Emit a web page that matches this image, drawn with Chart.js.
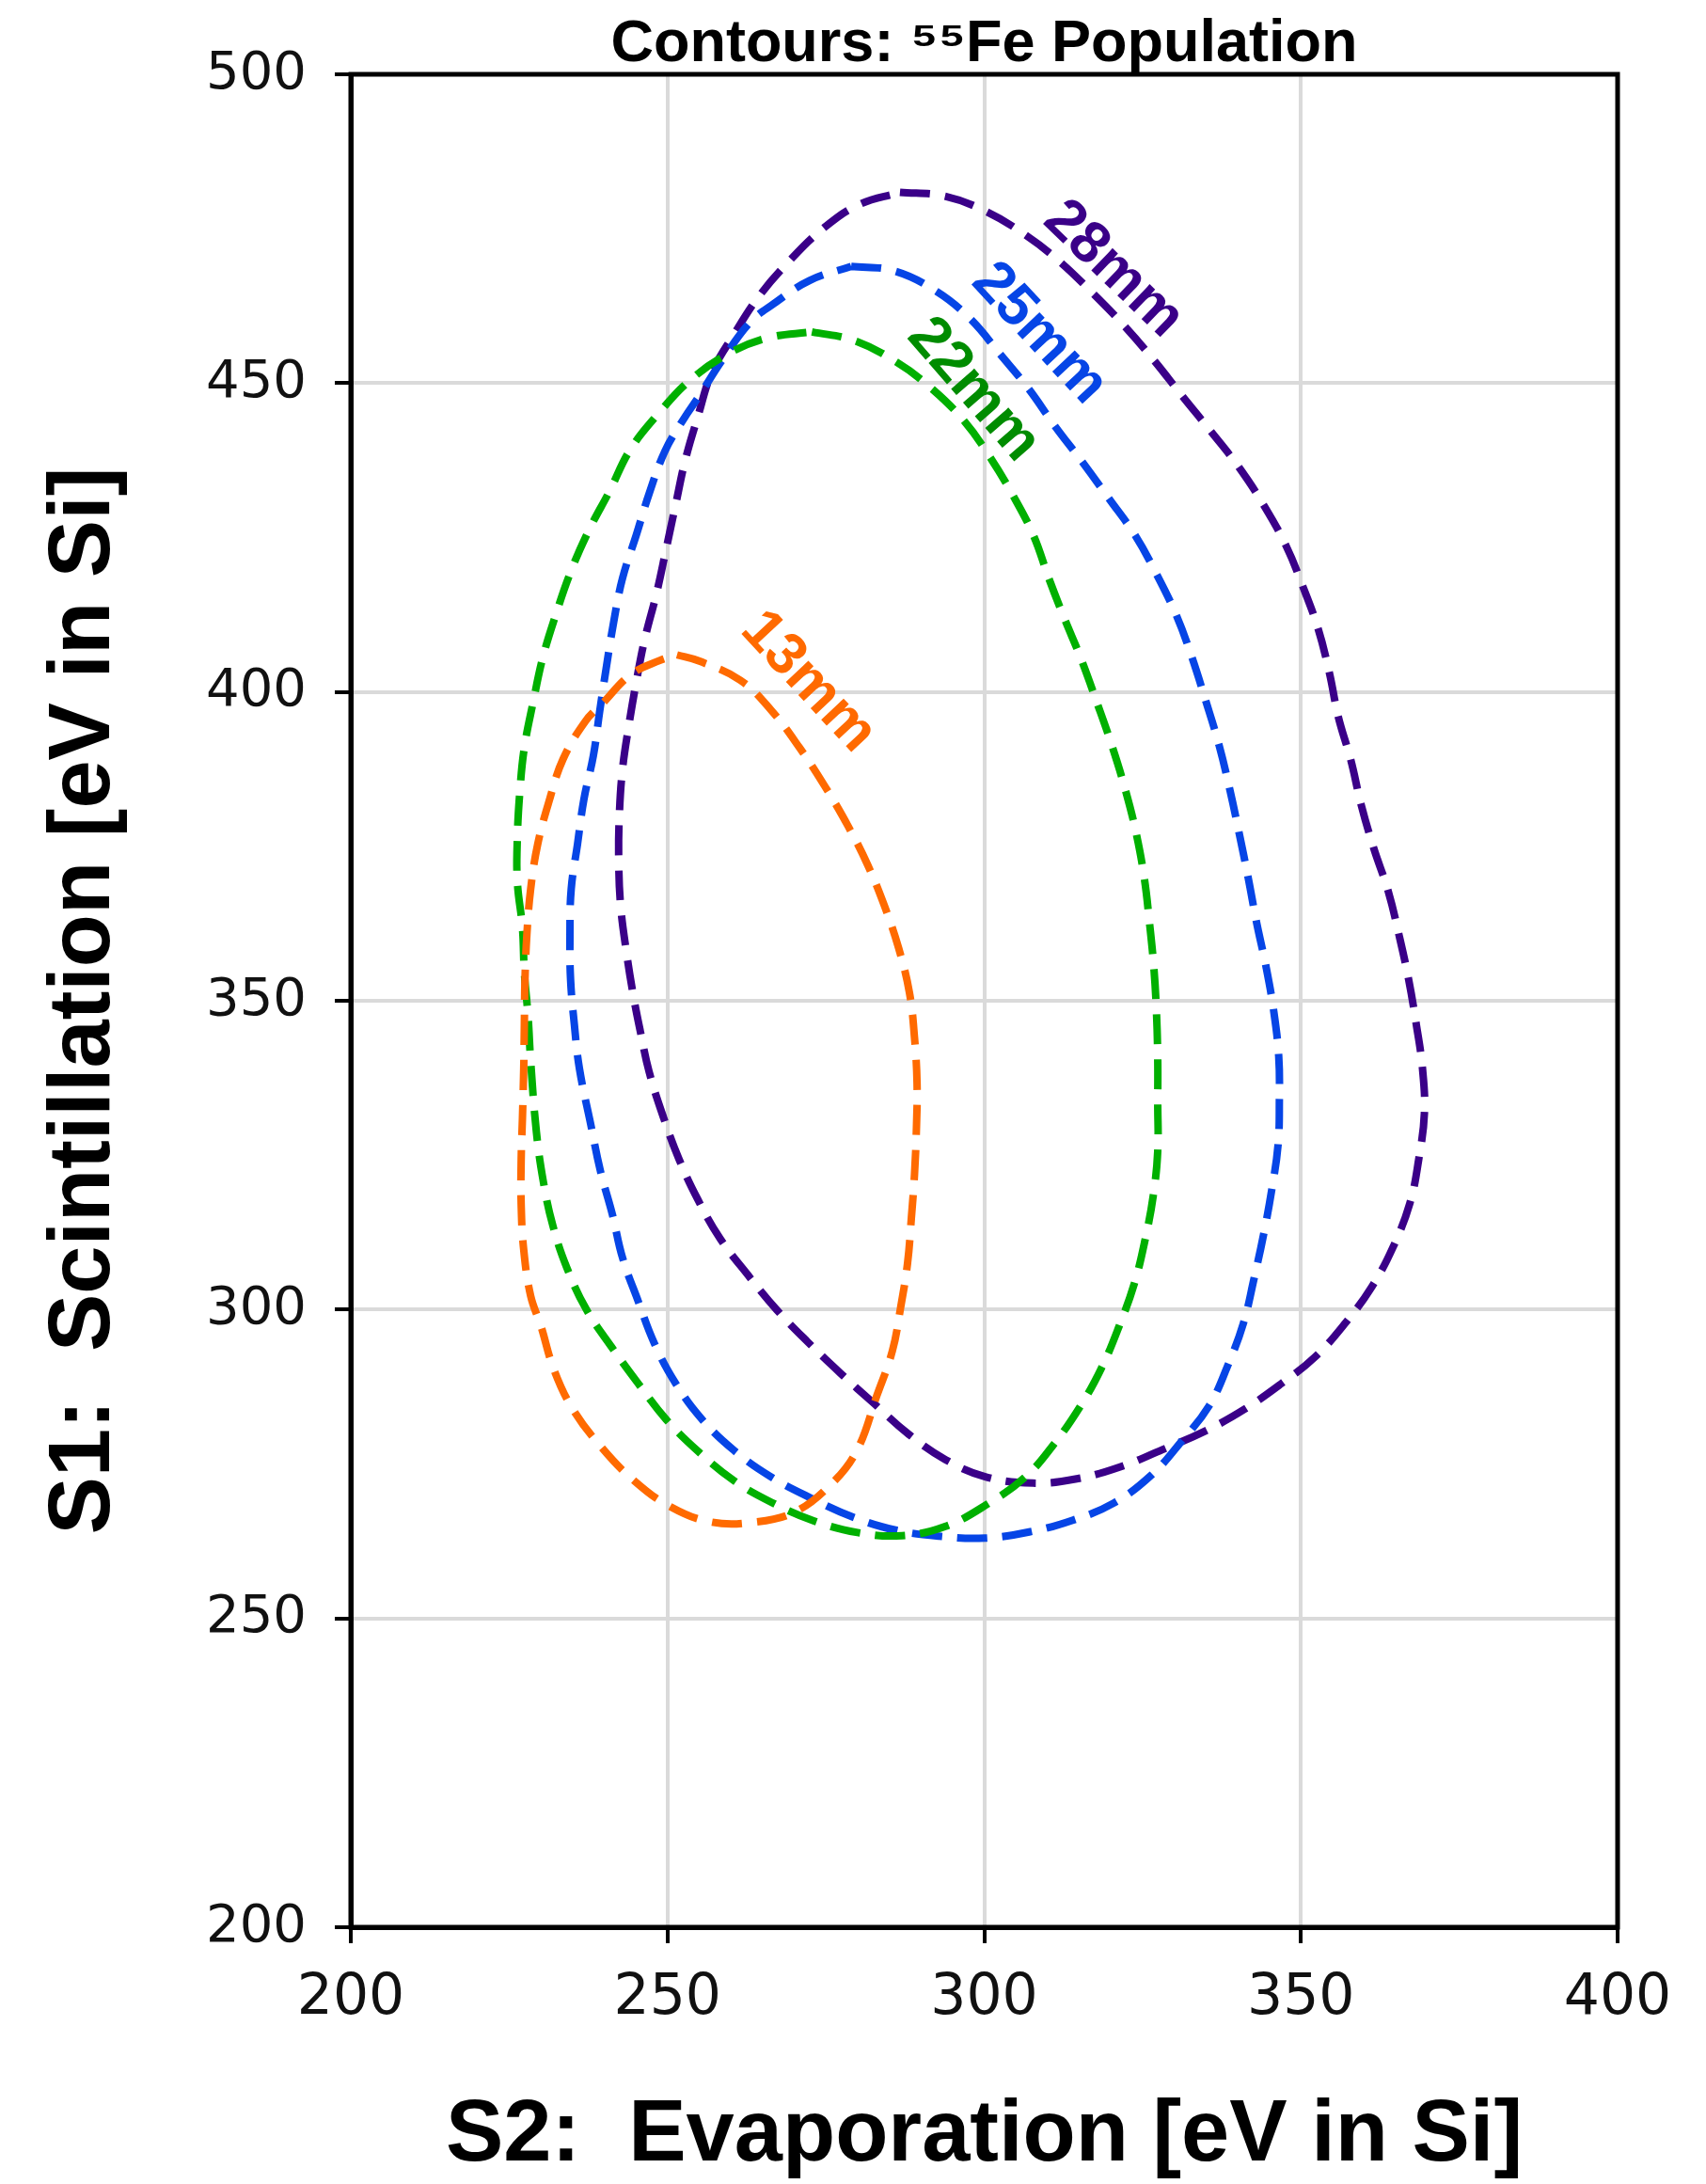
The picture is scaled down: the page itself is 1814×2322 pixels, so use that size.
<!DOCTYPE html>
<html>
<head>
<meta charset="utf-8">
<script src="https://cdn.jsdelivr.net/npm/chart.js@4.4.1/dist/chart.umd.min.js"></script>
<style>
  html, body { margin: 0; padding: 0; background: #ffffff; }
  canvas { display: block; }
</style>
</head>
<body>
<canvas id="contour-chart" width="1814" height="2322"></canvas>
<script>
// Contour levels (detector distance)
const levelNames = ['13mm', '22mm', '25mm', '28mm'];
const levelColors = ['#ff6a00', '#00b000', '#0645e6', '#3a0088'];
const labelColors = ['#ff6a00', '#008c00', '#0645e6', '#3a0088'];

// 13mm contour (S2, S1), read clockwise from the top
const c13x = [251.5, 255.0, 261.5, 266.4, 270.9, 274.8, 278.5, 281.6, 284.2, 286.5, 288.2, 289.0, 289.4, 289.3, 289.0, 288.5, 287.9, 286.8, 285.5, 283.1, 279.8, 275.4, 270.0, 263.8, 256.9, 250.1, 244.4, 239.5, 235.1, 232.1, 230.0, 228.4, 227.3, 226.9, 226.9, 227.1, 227.3, 227.4, 227.5, 227.8, 228.4, 229.5, 231.3, 233.5, 237.0, 239.7, 244.2, 248.8, 251.5];
const c13y = [406.0, 405.0, 401.9, 397.0, 390.9, 384.8, 378.3, 372.0, 365.5, 358.5, 351.3, 344.0, 336.6, 329.3, 321.9, 314.8, 307.5, 300.3, 293.3, 286.2, 277.0, 271.3, 267.2, 265.6, 265.6, 268.3, 272.6, 277.8, 283.8, 290.2, 297.4, 302.2, 309.7, 317.0, 324.3, 331.0, 338.9, 346.2, 353.4, 360.7, 368.1, 375.3, 382.3, 389.1, 395.2, 398.1, 402.8, 405.1, 406.0];

// 22mm contour
const c22x = [272.8, 279.5, 286.0, 291.4, 296.9, 300.8, 304.5, 307.8, 310.2, 312.7, 315.2, 317.9, 320.2, 322.3, 324.0, 325.3, 326.1, 326.8, 327.2, 327.4, 327.4, 327.4, 326.7, 325.4, 323.7, 321.3, 318.5, 315.2, 311.0, 306.5, 300.5, 293.9, 287.0, 280.0, 273.1, 266.4, 260.5, 255.0, 249.8, 245.4, 241.2, 237.2, 234.1, 231.9, 230.4, 229.3, 228.4, 228.0, 227.4, 227.1, 226.3, 226.3, 226.7, 227.4, 228.8, 230.3, 232.3, 234.7, 237.5, 240.9, 244.1, 248.6, 253.5, 259.5, 265.7, 272.8];
const c22y = [458.3, 456.9, 453.5, 449.4, 443.8, 438.2, 431.9, 425.3, 418.4, 411.8, 405.6, 398.0, 391.2, 384.1, 377.1, 369.7, 362.6, 355.2, 348.1, 340.5, 333.4, 325.7, 318.5, 311.3, 304.2, 297.3, 290.5, 284.4, 278.2, 272.9, 268.5, 264.9, 263.4, 263.9, 265.8, 268.8, 272.3, 276.9, 282.2, 288.0, 293.9, 300.0, 306.8, 313.6, 320.7, 328.8, 340.2, 347.3, 354.6, 361.8, 369.2, 376.5, 384.0, 391.0, 398.4, 405.5, 412.3, 419.4, 426.0, 432.6, 439.2, 445.1, 450.4, 454.7, 457.3, 458.3];

// 25mm contour
const c25x = [279.0, 285.7, 292.4, 297.9, 302.5, 307.0, 311.2, 315.6, 319.7, 323.8, 327.2, 330.3, 332.6, 335.0, 337.1, 338.8, 340.3, 341.7, 343.0, 344.5, 345.7, 346.5, 346.6, 346.4, 345.4, 344.1, 342.6, 340.9, 338.4, 335.5, 331.1, 326.4, 320.5, 314.0, 307.1, 300.1, 292.9, 286.0, 279.3, 272.8, 266.2, 260.5, 255.3, 251.2, 247.9, 245.4, 242.9, 241.3, 239.4, 237.9, 236.1, 235.3, 234.7, 234.6, 234.8, 235.8, 236.8, 238.3, 239.3, 240.3, 241.5, 242.9, 245.1, 247.1, 249.6, 252.5, 255.0, 258.5, 263.0, 266.7, 272.4, 279.0];
const c25y = [468.9, 468.2, 464.9, 460.3, 454.7, 449.1, 443.0, 437.1, 431.3, 425.4, 419.1, 412.5, 406.2, 398.5, 391.3, 384.1, 376.9, 369.8, 362.7, 355.5, 348.4, 341.0, 333.8, 326.7, 319.4, 312.1, 305.0, 297.7, 290.8, 284.4, 278.6, 273.2, 268.7, 265.9, 264.0, 263.0, 263.3, 264.3, 266.4, 269.4, 273.0, 277.2, 282.4, 288.2, 294.6, 301.3, 308.4, 315.4, 322.5, 329.9, 339.0, 346.1, 353.4, 360.7, 368.1, 375.4, 382.6, 389.7, 396.9, 403.7, 411.3, 418.4, 425.5, 432.1, 439.0, 444.1, 447.9, 453.5, 459.8, 462.8, 466.6, 468.9];

// 28mm contour
const c28x = [286.7, 293.6, 300.3, 306.5, 311.9, 317.1, 322.1, 326.8, 331.2, 335.7, 340.2, 344.1, 347.6, 350.3, 352.7, 354.5, 355.9, 357.9, 359.5, 361.5, 363.8, 365.5, 367.0, 368.2, 369.2, 369.5, 368.6, 367.2, 364.5, 361.2, 357.0, 352.2, 346.9, 341.0, 335.0, 328.1, 321.4, 314.6, 307.7, 300.3, 293.9, 288.1, 282.6, 277.3, 272.1, 267.3, 262.7, 258.3, 254.8, 251.8, 249.4, 247.1, 245.7, 244.6, 243.5, 242.6, 242.3, 242.4, 242.9, 243.9, 245.1, 246.4, 248.3, 249.8, 251.3, 252.8, 254.8, 257.0, 260.5, 264.4, 268.9, 274.3, 280.0, 286.7];
const c28y = [480.9, 480.3, 477.8, 474.0, 469.7, 464.6, 459.3, 453.7, 448.0, 442.3, 436.4, 430.3, 423.8, 417.1, 410.3, 403.1, 396.0, 388.9, 381.8, 374.7, 367.7, 360.6, 353.5, 346.3, 339.0, 331.8, 324.3, 317.2, 310.0, 303.7, 297.8, 292.3, 288.0, 283.8, 280.4, 277.3, 274.5, 272.6, 271.9, 272.9, 275.7, 279.8, 284.8, 289.7, 294.8, 299.9, 305.6, 311.5, 317.8, 324.4, 331.0, 338.5, 345.1, 350.9, 358.0, 365.4, 372.6, 380.1, 387.5, 394.6, 401.8, 408.5, 416.1, 423.2, 430.4, 437.5, 444.6, 451.7, 457.9, 464.0, 469.4, 474.8, 478.8, 480.9];

// inline contour labels: position in data units and angle
const labelX = [272.2, 298.3, 308.7, 320.4];
const labelY = [401.6, 448.9, 458.0, 468.4];
const labelAngle = [47, 49, 47, 44];

const xTicks = [200, 250, 300, 350, 400];
const yTicks = [200, 250, 300, 350, 400, 450, 500];

const contourX = [c13x, c22x, c25x, c28x];
const contourY = [c13y, c22y, c25y, c28y];

function toPoints(xs, ys) {
    return xs.map((x, i) => ({ x: x, y: ys[i] }));
}

// black box round the plot area
const framePlugin = {
    id: 'frame',
    afterDraw(chart) {
        const a = chart.chartArea;
        const ctx = chart.ctx;
        ctx.save();
        ctx.strokeStyle = '#000000';
        ctx.lineWidth = 5;
        ctx.strokeRect(a.left, a.top, a.right - a.left, a.bottom - a.top);
        ctx.restore();
    }
};

// contour level labels, rotated along the curves
const contourLabelPlugin = {
    id: 'contourLabels',
    afterDatasetsDraw(chart) {
        const ctx = chart.ctx;
        const xs = chart.scales.x;
        const ys = chart.scales.y;
        ctx.save();
        ctx.font = 'bold 62px "Liberation Sans", Arial, sans-serif';
        ctx.textAlign = 'center';
        ctx.textBaseline = 'middle';
        levelNames.forEach((name, i) => {
            const px = xs.getPixelForValue(labelX[i]);
            const py = ys.getPixelForValue(labelY[i]);
            ctx.save();
            ctx.translate(px, py);
            ctx.rotate(labelAngle[i] * Math.PI / 180);
            ctx.fillStyle = labelColors[i];
            ctx.fillText(name, 0, 0);
            ctx.restore();
        });
        ctx.restore();
    }
};

document.addEventListener('DOMContentLoaded', function() {
    const canvas = document.getElementById('contour-chart');

    const datasets = levelNames.map((name, i) => ({
        label: name,
        data: toPoints(contourX[i], contourY[i]),
        showLine: true,
        fill: false,
        borderColor: levelColors[i],
        borderWidth: 8,
        borderDash: [32, 16],
        tension: 0.4,
        pointRadius: 0,
        pointHoverRadius: 0
    }));

    new Chart(canvas, {
        type: 'scatter',
        data: { datasets: datasets },
        options: {
            responsive: false,
            animation: false,
            events: [],
            layout: { padding: { left: 0, right: 94, top: 0, bottom: 0 } },
            plugins: {
                legend: { display: false },
                tooltip: { enabled: false },
                title: {
                    display: true,
                    text: 'Contours: \u2075\u2075Fe Population',
                    fullSize: false,
                    color: '#000000',
                    font: { family: '"Liberation Sans", Arial, sans-serif', size: 63, weight: 'bold', lineHeight: 1 },
                    padding: { top: 16, bottom: 0 }
                }
            },
            scales: {
                x: {
                    type: 'linear',
                    min: 200,
                    max: 400,
                    afterFit: (scale) => { scale.height = 273; },
                    afterBuildTicks: (scale) => { scale.ticks = xTicks.map(v => ({ value: v })); },
                    ticks: {
                        color: '#111111',
                        padding: 23,
                        font: { family: '"DejaVu Sans", sans-serif', size: 60 }
                    },
                    grid: {
                        color: '#dadada',
                        lineWidth: 4,
                        tickColor: '#000000',
                        tickWidth: 4,
                        tickLength: 17
                    },
                    border: { color: '#000000', width: 5 },
                    title: {
                        display: true,
                        text: 'S2:  Evaporation [eV in Si]',
                        color: '#000000',
                        font: { family: '"Liberation Sans", Arial, sans-serif', size: 92, weight: 'bold', lineHeight: 1 },
                        padding: { top: 0, bottom: 4 }
                    }
                },
                y: {
                    type: 'linear',
                    min: 200,
                    max: 500,
                    afterFit: (scale) => { scale.width = 373; },
                    afterBuildTicks: (scale) => { scale.ticks = yTicks.map(v => ({ value: v })); },
                    ticks: {
                        color: '#111111',
                        padding: 30,
                        font: { family: '"DejaVu Sans", sans-serif', size: 56 }
                    },
                    grid: {
                        color: '#dadada',
                        lineWidth: 4,
                        tickColor: '#000000',
                        tickWidth: 4,
                        tickLength: 17
                    },
                    border: { color: '#000000', width: 5 },
                    title: {
                        display: true,
                        text: 'S1:  Scintillation [eV in Si]',
                        color: '#000000',
                        font: { family: '"Liberation Sans", Arial, sans-serif', size: 92, weight: 'bold', lineHeight: 1 },
                        padding: { top: 45, bottom: 0 }
                    }
                }
            }
        },
        plugins: [framePlugin, contourLabelPlugin]
    });
});
</script>
</body>
</html>
